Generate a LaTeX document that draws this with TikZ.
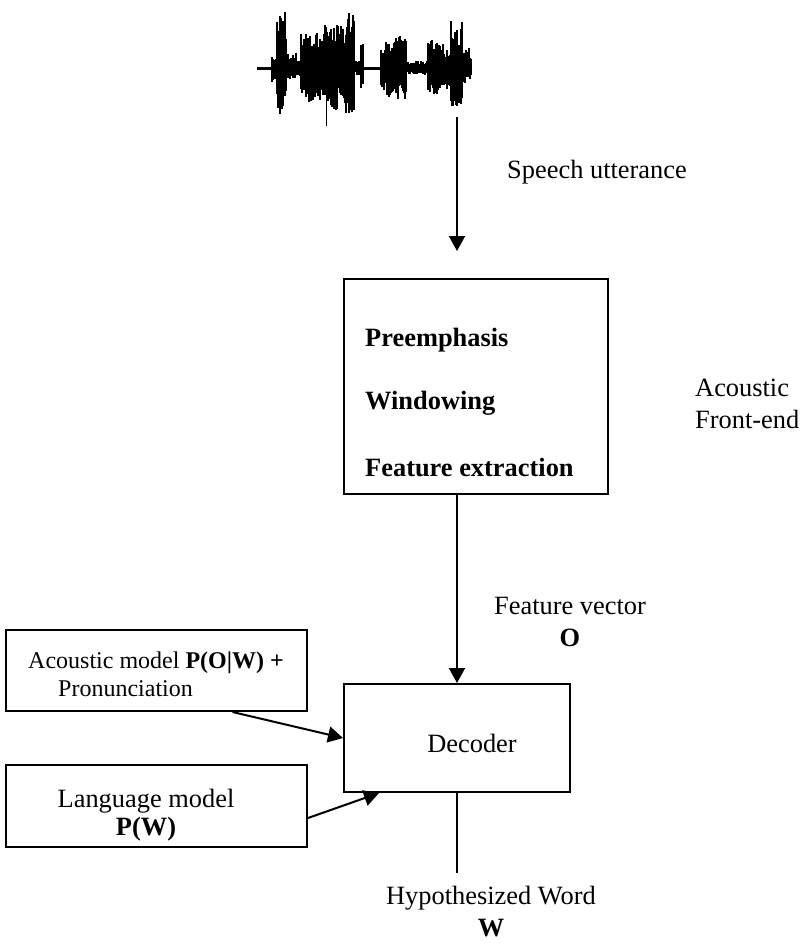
\documentclass[tikz,border=0pt]{standalone}
\usepackage{fontspec}
\setmainfont{Liberation Serif}
\usetikzlibrary{arrows.meta}

\begin{document}
\begin{tikzpicture}[x=1pt,y=-1pt,
  box/.style={draw,line width=2pt,inner sep=0pt},
  txt/.style={font=\fontsize{26.4}{32}\selectfont,inner sep=0pt},
  arr/.style={line width=2pt,-{Triangle[length=15pt,width=16pt]}}]

\useasboundingbox (0,0) rectangle (808,943);

% speech waveform
\pgfmathsetseed{11}
\draw[line width=3pt] (257,68) -- (471,68);
\foreach \a/\b/\up/\dn in {272/276/14/14, 277/286/58/48, 287/296/16/14, 297/300/9/9,
  301/322/38/36, 323/345/44/42, 346/354/62/50, 355/360/8/8, 361/363/26/20,
  381/395/26/30, 396/406/36/32, 407/427/7/7, 428/440/30/30, 441/450/24/24,
  451/462/48/44, 463/471/20/15}{
  \foreach \x in {\a,...,\b}{
    \pgfmathsetmacro\u{\up*(0.45+0.55*rnd)}
    \pgfmathsetmacro\d{\dn*(0.45+0.55*rnd)}
    \draw[line width=1.6pt] (\x,{68-\u}) -- (\x,{68+\d});
  }
}
\draw[line width=1pt] (326,68) -- (326,126);
\coordinate (wav) at (457,117);
\coordinate (fein) at (457,251);

% front end
\node[box,minimum width=264pt,minimum height=215pt] (fe) at (476,386.5) {};
\node[txt,anchor=west,font=\fontsize{26.4}{32}\selectfont\bfseries] (pre) at (365,340) {Preemphasis};
\node[txt,anchor=west,font=\fontsize{26.4}{32}\selectfont\bfseries] (win) at (365,403) {Windowing};
\node[txt,anchor=west,font=\fontsize{26.4}{32}\selectfont\bfseries] (fex) at (365,467) {Feature extraction};
\node[txt,anchor=west,align=left] (afe) at (695,404) {Acoustic\\Front-end};
\node[txt] (spu) at (597,172) {Speech utterance};

% decoder and models
\node[box,minimum width=226pt,minimum height=108pt] (dec) at (457,738) {};
\node[txt] (dect) at (472,743) {Decoder};
\node[txt,align=center] (fv) at (570,622) {Feature vector\\\textbf{O}};
\node[box,minimum width=301pt,minimum height=81pt] (am) at (156.5,670.5) {};
\node[txt,anchor=west,align=left,font=\fontsize{24}{28}\selectfont] (amt) at (28,674)
  {Acoustic model \textbf{P(O|W) +}\\\hspace*{30pt}Pronunciation};
\node[box,minimum width=301pt,minimum height=82pt] (lm) at (156.5,806) {};
\node[txt,align=center,font=\fontsize{26.4}{28}\selectfont] (lmt) at (146,815) {Language model\\\textbf{P(W)}};
\node[txt,align=center] (hyp) at (491,912) {Hypothesized Word\\\textbf{W}};
\coordinate (out) at (457,873);

\draw[arr] (wav) -- (fein);
\draw[arr] (fe.south -| dec.north) -- (dec.north);
\draw[arr] ([xshift=76pt]am.south) -- (dec.west);
\draw[arr] ([yshift=-12pt]lm.east) -- ([xshift=36pt]dec.south west);
\draw[line width=2pt] (dec.south) -- (out);

\end{tikzpicture}
\end{document}
